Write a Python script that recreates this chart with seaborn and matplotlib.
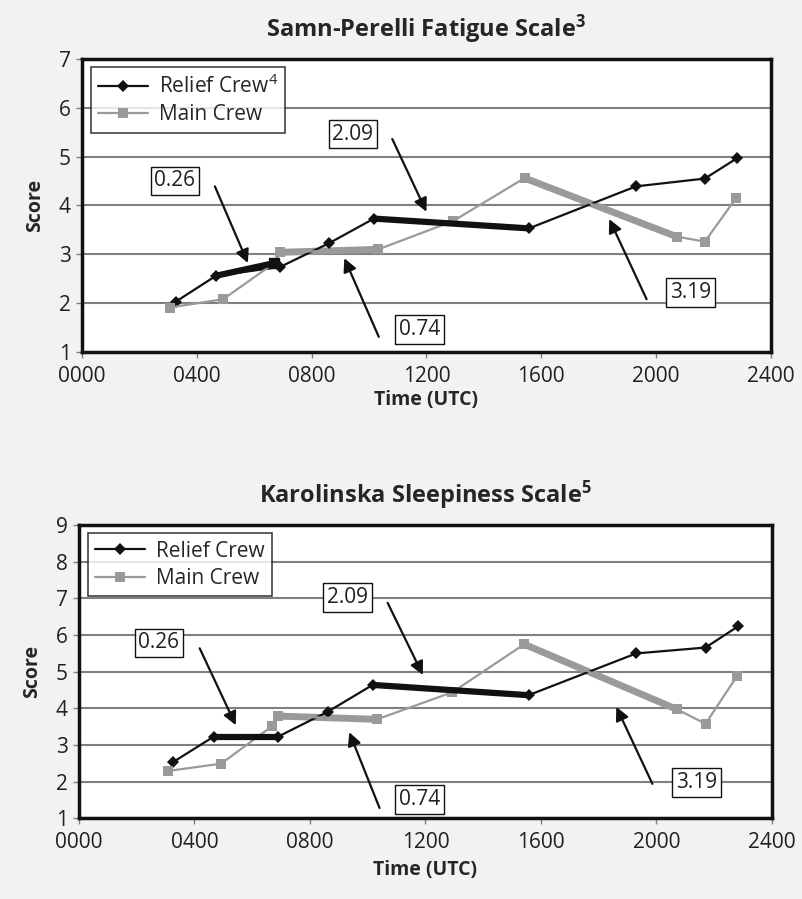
import numpy as np
import pandas as pd
import seaborn as sns
import matplotlib.pyplot as plt

# times (decimal hours UTC)
relief_time = [3.27, 4.67, 6.9, 8.62, 10.17, 15.57, 19.3, 21.7, 22.83]
main_time = [3.07, 4.92, 6.7, 6.9, 10.32, 12.93, 15.42, 20.72, 21.7, 22.8]

# Samn-Perelli
sp_relief = [2.03, 2.56, 2.74, 3.23, 3.73, 3.53, 4.39, 4.55, 4.97]
sp_main = [1.91, 2.08, 2.82, 3.04, 3.10, 3.68, 4.56, 3.36, 3.26, 4.16]

# Karolinska
kss_relief = [2.54, 3.23, 3.23, 3.91, 4.64, 4.36, 5.50, 5.66, 6.24]
kss_main = [2.29, 2.49, 3.52, 3.79, 3.70, 4.44, 5.75, 3.97, 3.58, 4.89]

# highlighted segments (index pairs) and their labels
relief_segs = [(1, 2), (4, 5)]
main_segs = [(3, 4), (6, 7)]
seg_labels = ['0.26', '2.09', '0.74', '3.19']

xticks = [0, 4, 8, 12, 16, 20, 24]
xticklabels = ['0000', '0400', '0800', '1200', '1600', '2000', '2400']

sns.set_style('white')
plt.rcParams['font.family'] = ['Open Sans', 'DejaVu Sans']
plt.rcParams['mathtext.fontset'] = 'custom'
plt.rcParams['mathtext.rm'] = 'Open Sans'
plt.rcParams['mathtext.bf'] = 'Open Sans:bold'

bg = '#f1f2f4'
black = '#111111'
gray = '#9a9a9a'

fig = plt.figure(figsize=(8.02, 8.99), dpi=100, facecolor=bg)
ax1 = fig.add_axes([0.1022, 0.6085, 0.859, 0.326])
ax2 = fig.add_axes([0.0985, 0.0898, 0.864, 0.326])


def draw(ax, relief, main, ymax, relief_label, title, notes, top=False):
    df = pd.concat([
        pd.DataFrame({'Time': relief_time, 'Score': relief, 'Crew': relief_label}),
        pd.DataFrame({'Time': main_time, 'Score': main, 'Crew': 'Main Crew'}),
    ])
    sns.lineplot(data=df, x='Time', y='Score', hue='Crew', style='Crew',
                 palette=[black, gray], markers=['D', 's'], dashes=False,
                 sort=False, estimator=None, ax=ax, lw=1.6, markersize=6.5,
                 markeredgewidth=0, zorder=3)

    # thick highlighted segments
    for i, j in relief_segs:
        xs, ys = [relief_time[i], relief_time[j]], [relief[i], relief[j]]
        if top and i == 1:
            xs, ys = [relief_time[1], main_time[2]], [relief[1], main[2]]
            ax.plot(xs[1], ys[1], 's', color=black, ms=7, zorder=5)
        ax.plot(xs, ys, color=black, lw=4.5, solid_capstyle='butt', zorder=4)
    for i, j in main_segs:
        ax.plot([main_time[i], main_time[j]], [main[i], main[j]],
                color=gray, lw=5, solid_capstyle='butt', zorder=2)

    for lab, (tx, ty, sx, sy, hx, hy) in zip(seg_labels, notes):
        ax.text(tx, ty, lab, ha='center', va='center', fontsize=15, color='#231f20',
                bbox=dict(boxstyle='square,pad=0.18', fc='white', ec=black, lw=1),
                zorder=6)
        ax.annotate('', xy=(hx, hy), xytext=(sx, sy),
                    arrowprops=dict(arrowstyle='-|>', color=black, lw=1.6,
                                    mutation_scale=20, shrinkA=0, shrinkB=0),
                    zorder=6)

    ax.set_xlim(0, 24)
    ax.set_ylim(1, ymax)
    ax.set_xticks(xticks)
    ax.set_xticklabels(xticklabels)
    ax.set_yticks(range(1, ymax + 1))
    ax.yaxis.grid(True, color='#808080', lw=1.5)
    ax.set_axisbelow(True)
    ax.tick_params(axis='both', direction='out', length=4, width=1, color='#808080',
                   labelsize=15, labelcolor='#231f20', left=True, bottom=True, pad=4)
    ax.tick_params(axis='x', pad=6)
    for s in ax.spines.values():
        s.set_visible(True)
        s.set_color(black)
        s.set_linewidth(2.5)
    ax.set_facecolor('white')
    ax.set_xlabel('Time (UTC)', fontsize=14, fontweight='bold', labelpad=2)
    ax.set_ylabel('Score', fontsize=14, fontweight='bold', labelpad=10)
    ax.set_title(title, fontsize=17, fontweight='bold', pad=16, x=0.5)

    leg = ax.legend(loc='upper left', bbox_to_anchor=(0.013, 0.972), fontsize=15,
                    frameon=True, fancybox=False, borderpad=0.35, handlelength=2.4,
                    handletextpad=0.5, labelspacing=0.3, borderaxespad=0)
    leg.get_frame().set_edgecolor(black)
    leg.get_frame().set_linewidth(1.2)
    leg.set_zorder(7)


draw(ax1, sp_relief, sp_main, 7, 'Relief Crew$^{4}$',
     'Samn-Perelli Fatigue Scale$\\mathbf{^{3}}$',
     [(3.24, 4.50, 4.63, 4.39, 5.78, 2.82),
      (9.44, 5.46, 10.81, 5.36, 12.0, 3.87),
      (11.77, 1.46, 10.34, 1.31, 9.14, 2.92),
      (21.19, 2.22, 19.67, 2.08, 18.37, 3.72)], top=True)

draw(ax2, kss_relief, kss_main, 9, 'Relief Crew',
     'Karolinska Sleepiness Scale$\\mathbf{^{5}}$',
     [(2.77, 5.79, 4.18, 5.64, 5.43, 3.54),
      (9.30, 7.03, 10.69, 6.88, 11.91, 4.91),
      (11.8, 1.51, 10.41, 1.28, 9.36, 3.35),
      (21.38, 1.98, 19.86, 1.94, 18.61, 4.04)])
ax2.xaxis.labelpad = 5

fig.savefig('out.png', dpi=100, facecolor=bg)
